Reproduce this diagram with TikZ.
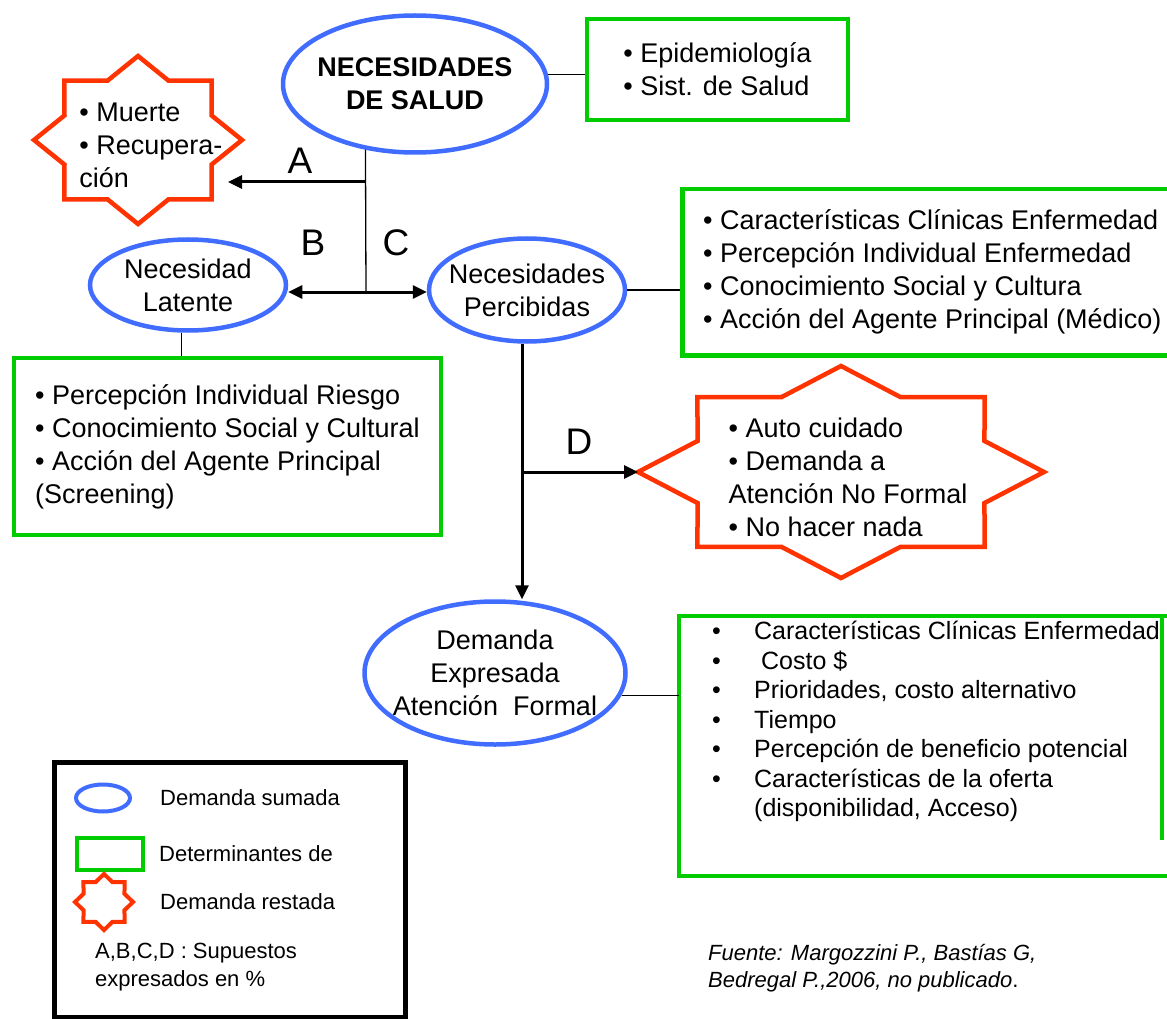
\documentclass[tikz,border=0pt]{standalone}
\usepackage{fontspec}
\setmainfont{Liberation Sans}
\usetikzlibrary{shapes.geometric, arrows.meta, positioning, calc}

\definecolor{elblue}{RGB}{64,108,255}
\definecolor{boxgreen}{RGB}{0,204,0}
\definecolor{starred}{RGB}{255,51,0}

% 8-point star round a point: centre, half width, half height
\newcommand{\eightstar}[4][4.5pt]{%
  \draw[starline, line width=#1, shift={(#2)}] (#3,0)
    foreach \k [evaluate=\k as \rr using {1-0.235*mod(\k,2)}] in {1,...,15}
      { -- ({\rr*#3*cos(22.5*\k)},{\rr*#4*sin(22.5*\k)}) } -- cycle;}

\begin{document}
\begin{tikzpicture}[
                x=1pt, y=-1pt,
                every node/.style={font=\fontsize{27}{33}\selectfont},
                demand/.style={ellipse, draw=elblue, line width=4.5pt, align=center, inner xsep=-14pt, inner ysep=-4pt},
                detbox/.style={rectangle, draw=boxgreen, line width=4.5pt, align=left, inner sep=0pt},
                boxline/.style={draw=boxgreen, line width=4.5pt},
                starline/.style={draw=starred},
                startext/.style={align=left, inner sep=0pt},
                flow/.style={line width=3pt, -{Triangle[length=14pt,width=13pt]}},
                link/.style={line width=1.3pt},
                lbl/.style={font=\fontsize{37}{40}\selectfont, inner sep=0pt},
                legend/.style={font=\fontsize{22}{28}\selectfont, align=left, inner sep=0pt, anchor=west}
            ]
            \useasboundingbox (0,0) rectangle (1167,1019);
            \clip (0,0) rectangle (1167,1019);

            % Define nodes
            \node[demand, minimum width=264, minimum height=137,
                  font=\fontsize{27}{33}\selectfont\bfseries] (salud) at (415,84) {NECESIDADES\\DE SALUD};
            \node[detbox, minimum width=261, minimum height=101] (epi) at (717.5,69.5) {• Epidemiología\\• Sist. de Salud};
            \node[demand, minimum width=196, minimum height=91] (lat) at (188,285) {Necesidad\\Latente};
            \node[demand, minimum width=196, minimum height=103] (perc) at (527,290) {Necesidades\\Percibidas};
            \node[detbox, minimum width=500, minimum height=166, anchor=north west] (pbox) at (680,187)
                {• Características Clínicas Enfermedad\\• Percepción Individual Enfermedad\\• Conocimiento Social y Cultura\\• Acción del Agente Principal (Médico)};
            \node[detbox, minimum width=427, minimum height=177] (lbox) at (227.5,446.5)
                {• Percepción Individual Riesgo\\• Conocimiento Social y Cultural\\• Acción del Agente Principal\\(Screening)};
            \node[demand, minimum width=261, minimum height=143] (dem) at (495,673) {Demanda\\Expresada\\Atención\ \ Formal};

            % Box of the demanda expresada, open at the right
            \node[minimum width=501, minimum height=260, anchor=north west, inner sep=0pt, outer sep=0pt] (demdet) at (679,616) {};
            \node[anchor=north west, align=left, inner sep=0pt, font=\fontsize{25}{29.5}\selectfont] (demlist)
                at ([shift={(33,5)}]demdet.north west)
                {\makebox[42pt][l]{•}Características Clínicas Enfermedad\\
                 \makebox[42pt][l]{•}\ Costo \$\\
                 \makebox[42pt][l]{•}Prioridades, costo alternativo\\
                 \makebox[42pt][l]{•}Tiempo\\
                 \makebox[42pt][l]{•}Percepción de beneficio potencial\\
                 \makebox[42pt][l]{•}Características de la oferta\\
                 \hspace*{42pt}(disponibilidad, Acceso)};
            \draw[boxline] (demdet.north east) -- (demdet.north west) -- (demdet.south west) -- (demdet.south east);
            \draw[boxline] ($(demdet.north west)+(483,0)$) -- ($(demdet.north west)+(483,224)$);

            % Stars
            \coordinate (muertec) at (138,140);
            \eightstar{muertec}{104}{84}
            \node[startext] (muerte) at (151,145) {• Muerte\\• Recupera-\\ción};
            \coordinate (dstarc) at (841,472);
            \eightstar{dstarc}{203}{106}
            \node[startext] (noform) at (848,477) {• Auto cuidado\\• Demanda a\\Atención No Formal\\• No hacer nada};

            % Junctions
            \coordinate (jA) at (366,182);
            \coordinate (jBC) at (366,292);
            \coordinate (jD) at (522,472);
            \coordinate (muertetip) at (228,182);
            \coordinate (dstarw) at ($(dstarc)+(-203,0)$);

            % Arrows connecting nodes
            \draw[link] (salud.233) -- (jBC);
            \draw[flow] (jA) -- (muertetip);
            \draw[flow] (jBC) -- (jBC -| lat.east);
            \draw[flow] (jBC) -- (jBC -| perc.west);
            \draw[flow] (perc.south -| jD) -- (dem.north -| jD);
            \draw[flow] (jD) -- (dstarw);

            % Lines to the determinants
            \draw[link] (salud.4) -- (salud.4 -| epi.west);
            \draw[link] (perc.east) -- (perc.east -| pbox.west);
            \draw[link] (lat.262) -- (lat.262 |- lbox.north);
            \draw[link] (dem.-10) -- (dem.-10 -| demdet.west);

            % Labels
            \node[lbl] (labA) at (300,161) {A};
            \node[lbl] (labB) at (313,243) {B};
            \node[lbl] (labC) at (396,243) {C};
            \node[lbl] (labD) at (579,442) {D};

            % Legend
            \node[draw, line width=4.5pt, minimum width=351, minimum height=255, anchor=north west] (legbox) at (52,760) {};
            \node[demand, minimum width=54, minimum height=27, line width=4pt] (legell) at (103,798) {};
            \node[detbox, minimum width=66, minimum height=32, line width=4pt] (legrect) at (110,854) {};
            \coordinate (legstar) at (104,902);
            \eightstar[4pt]{legstar}{29}{28}
            \node[legend, right=28pt of legell] (legsum) {Demanda sumada};
            \node[legend, right=14pt of legrect] (legdet) {Determinantes de};
            \node[legend, right=56pt of legstar] (legres) {Demanda restada};
            \node[legend] (legnote) at (95,967) {A,B,C,D : Supuestos\\expresados en \%};

            % Source
            \node[font=\fontsize{22}{27}\selectfont\itshape, align=left, anchor=west, inner sep=0pt] (fuente) at (708,968)
                {Fuente: Margozzini P., Bastías G,\\Bedregal P.,2006, no publicado{\upshape .}};

        \end{tikzpicture}
\end{document}
